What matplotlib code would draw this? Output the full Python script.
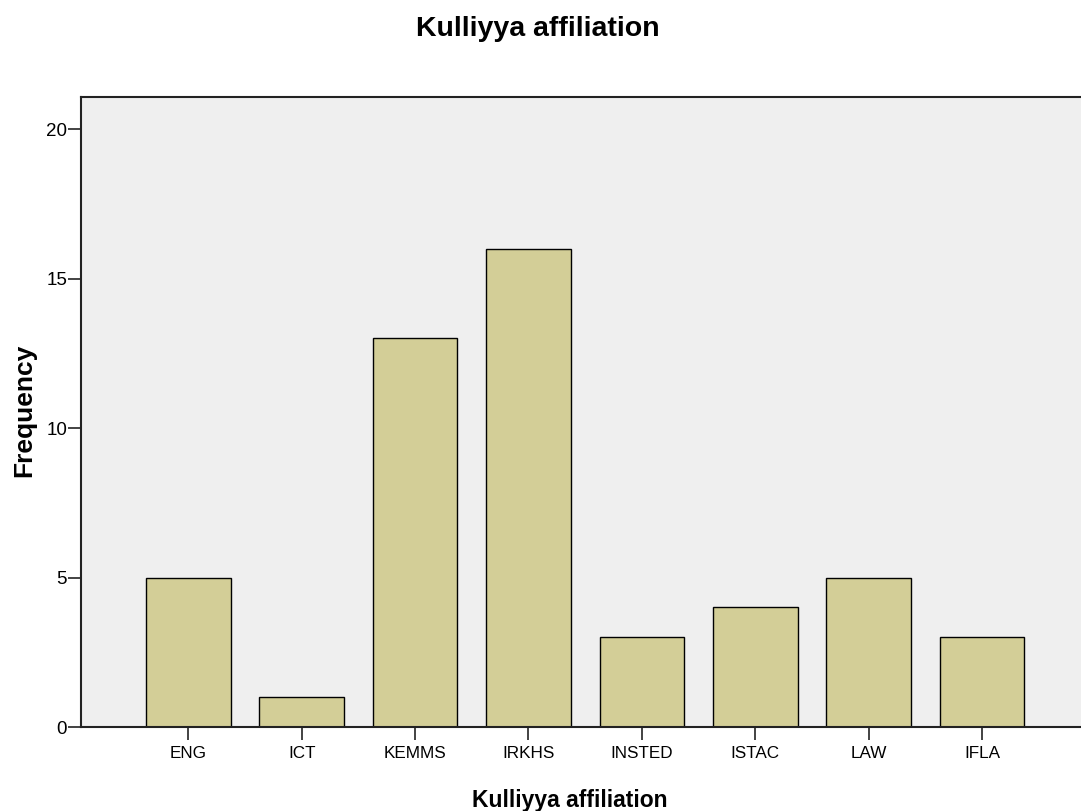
import matplotlib
matplotlib.use('Agg')
import matplotlib.pyplot as plt

plt.rcParams['font.family'] = ['Liberation Sans', 'DejaVu Sans']

categories = ['ENG', 'ICT', 'KEMMS', 'IRKHS', 'INSTED', 'ISTAC', 'LAW', 'IFLA']
counts = [5, 1, 13, 16, 3, 4, 5, 3]
yticks = [0, 5, 10, 15, 20]

W, H = 1081, 811
fig = plt.figure(figsize=(W / 100, H / 100), dpi=100)
ax = fig.add_axes([81 / W, 1 - 727 / H, 1 - 81 / W, (727 - 97) / H])
ax.set_facecolor('#efefef')

x = list(range(len(categories)))
ax.bar(x, counts, width=0.747, color='#d3ce97', edgecolor='black', linewidth=1.0, zorder=2)

ax.set_xlim(-0.946, 7.872)
ax.set_ylim(0, 21.08)
ax.set_xticks(x)
ax.set_xticklabels(categories, fontsize=12.3)
ax.set_yticks(yticks)
ax.set_yticklabels([str(t) for t in yticks], fontsize=13.5)
ax.tick_params(axis='both', length=9.5, width=1.2, color='#222222')
ax.tick_params(axis='x', pad=4)
ax.tick_params(axis='y', pad=0.5)

for s in ['left', 'bottom', 'top']:
    ax.spines[s].set_linewidth(1.5)
    ax.spines[s].set_color('#222222')
ax.spines['right'].set_visible(False)

# axis titles
ax.set_xlabel('Kulliyya affiliation', fontsize=16.5, fontweight='bold')
ax.xaxis.set_label_coords(570 / W, 1 - 807 / H, transform=fig.transFigure)
ax.xaxis.label.set_va('baseline')
ax.set_ylabel('Frequency', fontsize=19, fontweight='bold')
ax.yaxis.set_label_coords(24 / W, 1 - 410 / H, transform=fig.transFigure)
ax.yaxis.label.set_va('center')

fig.text(538 / W, 1 - 36 / H, 'Kulliyya affiliation', ha='center', va='baseline',
         fontsize=20.5, fontweight='bold')

fig.savefig('out.png', dpi=100)
